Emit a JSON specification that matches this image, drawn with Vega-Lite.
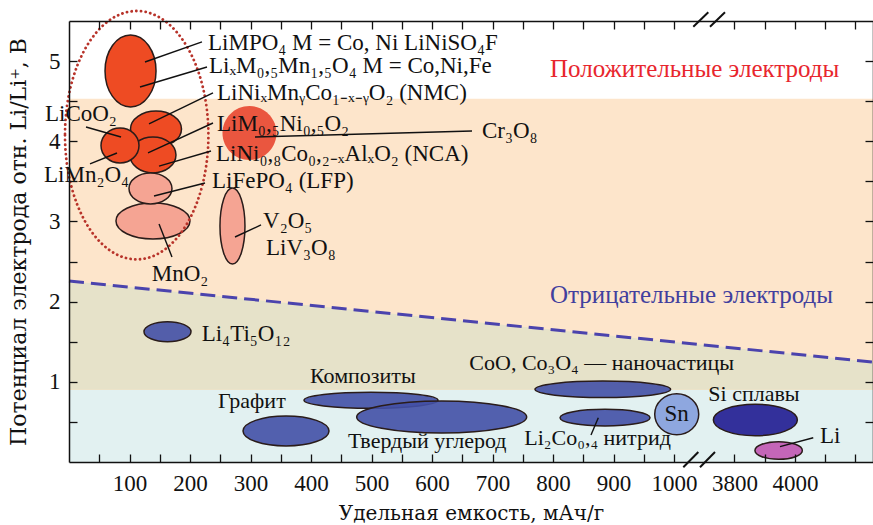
{
"$schema": "https://vega.github.io/schema/vega-lite/v6.json",
"width": 804, "height": 441,
"autosize": {"type": "none"},
"padding": {"left": 69, "top": 21, "right": 0, "bottom": 63},
"config": {"view": {"stroke": null}, "font": "Liberation Serif"},
"datasets": {
"boundary": [{"cap": 0, "v": 2.257, "vlo": 0.9}, {"cap": 4258, "v": 1.247, "vlo": 0.9}],
"ellipses": [
{"material":"LiMPO4","kind":"cathode","cap":101.7,"v":4.877},
{"material":"NMC","kind":"cathode","cap":143.8,"v":4.153},
{"material":"NCA","kind":"cathode","cap":138.8,"v":3.829},
{"material":"LiCoO2","kind":"cathode","cap":84.3,"v":3.947},
{"material":"MnO2","kind":"light","cap":138.8,"v":3.006},
{"material":"LFP","kind":"light","cap":134.7,"v":3.411},
{"material":"V2O5","kind":"light","cap":270.2,"v":2.943},
{"material":"LiM05Ni05O2","kind":"alt","cap":298.3,"v":4.103},
{"material":"LTO","kind":"anode","cap":162.8,"v":1.625},
{"material":"graphite","kind":"anode","cap":358.7,"v":0.387},
{"material":"composites","kind":"anode","cap":499.2,"v":0.770},
{"material":"hardcarbon","kind":"anode","cap":616,"v":0.561},
{"material":"CoO","kind":"anode","cap":882.3,"v":0.907},
{"material":"nitride","kind":"anode","cap":886,"v":0.553},
{"material":"Sn","kind":"sn","cap":1004.5,"v":0.595},
{"material":"Si","kind":"si","cap":3869,"v":0.524},
{"material":"Li","kind":"li","cap":3946,"v":0.143}
],
"leaders": [
{"cap":125.6,"v":4.989,"cap2":219.8,"v2":5.239},
{"cap":117.4,"v":4.677,"cap2":228.1,"v2":4.926},
{"cap":132.2,"v":4.216,"cap2":238,"v2":4.603},
{"cap":130.6,"v":3.854,"cap2":238,"v2":4.228},
{"cap":148.8,"v":3.691,"cap2":234.7,"v2":3.879},
{"cap":28.1,"v":4.178,"cap2":86,"v2":4.053},
{"cap":34.7,"v":3.717,"cap2":79.3,"v2":3.854},
{"cap":307.4,"v":4.053,"cap2":666.1,"v2":4.128},
{"cap":140.5,"v":3.318,"cap2":224.8,"v2":3.48},
{"cap":148.8,"v":2.968,"cap2":170.2,"v2":2.557},
{"cap":274.4,"v":2.806,"cap2":317.4,"v2":2.956},
{"cap":874.9,"v":0.553,"cap2":862.8,"v2":0.337},
{"cap":3950.4,"v":0.191,"cap2":4060.5,"v2":0.303}
],
"breaks": [
{"cap":1015.4,"v":-0.066,"cap2":1040.2,"v2":0.125},
{"cap":1043,"v":-0.066,"cap2":3735.5,"v2":0.125},
{"cap":1031.9,"v":5.429,"cap2":3713.4,"v2":5.609},
{"cap":3719,"v":5.429,"cap2":3768.6,"v2":5.609}
],
"labelsLatin": [
{"label":"LiMPO₄ M = Co, Ni LiNiSO₄F","cap":229.8,"v":5.138},
{"label":"LiₓM₀,₅Mn₁,₅O₄ M = Co,Ni,Fe","cap":231.4,"v":4.852},
{"label":"LiNiₓMnᵧCo₁₋ₓ₋ᵧO₂ (NMC)","cap":244.6,"v":4.515},
{"label":"LiM₀,₅Ni₀,₅O₂","cap":244.6,"v":4.128},
{"label":"Cr₃O₈","cap":682.6,"v":4.041},
{"label":"LiNi₀,₈Co₀,₂₋ₓAlₓO₂ (NCA)","cap":243,"v":3.754},
{"label":"LiFePO₄ (LFP)","cap":236.4,"v":3.417},
{"label":"LiCoO₂","cap":-39.7,"v":4.253},
{"label":"LiMn₂O₄","cap":-41.3,"v":3.492},
{"label":"V₂O₅","cap":320.7,"v":2.918},
{"label":"LiV₃O₈","cap":325.6,"v":2.582},
{"label":"MnO₂","cap":136.7,"v":2.257},
{"label":"Li₄Ti₅O₁₂","cap":219.3,"v":1.513},
{"label":"Li","cap":4082.6,"v":0.233}
],
"labelsCyr": [
{"label":"Графит","cap":246.3,"v":0.673},
{"label":"Композиты","cap":398.3,"v":0.982},
{"label":"Твердый углерод","cap":461.2,"v":0.171},
{"label":"CoO, Co₃O₄ — наночастицы","cap":661.7,"v":1.147},
{"label":"Li₂Co₀,₄ нитрид","cap":752.6,"v":0.212},
{"label":"Si сплавы","cap":3713.4,"v":0.765}
]
},
"resolve": {"axis": {"x": "independent", "y": "independent"}},
"layer": [
{
"data": {"values": [{"cap": 0, "cap2": 4258, "v": 0, "v2": 4.53}]},
"mark": {"type": "rect", "color": "#fde5cb"},
"encoding": {
"x": {"field": "cap", "type": "quantitative", "scale": {"domain": [0,1050,3700,4258], "range": [0,635.25,635.25,804], "nice": false, "zero": false},
 "axis": {"orient": "bottom", "zindex": 1, "values": [50,100,150,200,250,300,350,400,450,500,550,600,650,700,750,800,850,900,950,1000,3800,3900,4000,4100,4200],
 "labelExpr": "(datum.value % 100 === 0 && (datum.value <= 1000 || datum.value === 3800 || datum.value === 4000)) ? '' + datum.value : ''",
 "tickSize": -8, "tickColor": "#111", "tickWidth": 1.3, "domainColor": "#111", "domainWidth": 1.5, "grid": false,
 "labelFont": "Liberation Serif", "labelFontSize": 23, "labelColor": "#111", "labelPadding": 18.5, "labelFlush": false, "labelOverlap": false,
 "title": "Удельная емкость, мАч/г", "titleFont": "DejaVu Serif", "titleFontSize": 20, "titleFontWeight": "normal", "titleColor": "#111", "titlePadding": 8}},
"x2": {"field": "cap2"},
"y": {"field": "v", "type": "quantitative", "scale": {"domain": [0, 5.5], "nice": false, "zero": false},
 "axis": {"orient": "left", "zindex": 1, "values": [0.5,1,1.5,2,2.5,3,3.5,4,4.5,5], "labelExpr": "datum.value % 1 === 0 ? '' + datum.value : ''",
 "tickSize": -8, "tickColor": "#111", "tickWidth": 1.3, "domainColor": "#111", "domainWidth": 1.5, "grid": false,
 "labelFont": "Liberation Serif", "labelFontSize": 23, "labelColor": "#111", "labelPadding": 17, "labelFlush": false, "labelOverlap": false,
 "title": "Потенциал электрода отн. Li/Li⁺, В", "titleFont": "DejaVu Serif", "titleFontSize": 22, "titleFontWeight": "normal", "titleColor": "#111", "titlePadding": 18}},
"y2": {"field": "v2"}
}
},
{
"data": {"name": "boundary"},
"mark": {"type": "area", "color": "#e6e2c9"},
"encoding": {
"x": {"field": "cap", "type": "quantitative", "scale": {"domain": [0,1050,3700,4258], "range": [0,635.25,635.25,804], "nice": false, "zero": false},
 "axis": {"orient": "top", "zindex": 1, "values": [50,100,150,200,250,300,350,400,450,500,550,600,650,700,750,800,850,900,950,1000,3800,3900,4000,4100,4200],
 "labels": false, "title": null, "tickSize": -8, "tickColor": "#111", "tickWidth": 1.3, "domainColor": "#111", "domainWidth": 1.5, "grid": false}},
"y": {"field": "v", "type": "quantitative", "scale": {"domain": [0, 5.5], "nice": false, "zero": false},
 "axis": {"orient": "right", "zindex": 1, "values": [0.5,1,1.5,2,2.5,3,3.5,4,4.5,5], "labels": false, "title": null,
 "tickSize": -8, "tickColor": "#111", "tickWidth": 1.3, "domainColor": "#111", "domainWidth": 1.5, "grid": false}},
"y2": {"field": "vlo"}
}
},
{
"data": {"values": [{"cap": 0, "cap2": 4258, "v": 0, "v2": 0.898}]},
"mark": {"type": "rect", "color": "#e2f1f1"},
"encoding": {
"x": {"field": "cap", "type": "quantitative", "scale": {"domain": [0,1050,3700,4258], "range": [0,635.25,635.25,804], "nice": false, "zero": false}, "axis": null},
"x2": {"field": "cap2"},
"y": {"field": "v", "type": "quantitative", "scale": {"domain": [0, 5.5], "nice": false, "zero": false}, "axis": null},
"y2": {"field": "v2"}
}
},
{
"data": {"name": "boundary"},
"mark": {"type": "line", "color": "#4b43ad", "strokeWidth": 3, "strokeDash": [15, 7]},
"encoding": {
"x": {"field": "cap", "type": "quantitative", "scale": {"domain": [0,1050,3700,4258], "range": [0,635.25,635.25,804], "nice": false, "zero": false}, "axis": null},
"y": {"field": "v", "type": "quantitative", "scale": {"domain": [0, 5.5], "nice": false, "zero": false}, "axis": null}
}
},
{
"data": {"name": "ellipses"},
"mark": {"type": "point", "filled": true, "size": 4, "stroke": "#2a1c1a", "strokeWidth": 1.5, "opacity": 1},
"encoding": {
"x": {"field": "cap", "type": "quantitative", "scale": {"domain": [0,1050,3700,4258], "range": [0,635.25,635.25,804], "nice": false, "zero": false}, "axis": null},
"y": {"field": "v", "type": "quantitative", "scale": {"domain": [0, 5.5], "nice": false, "zero": false}, "axis": null},
"shape": {"field": "material", "type": "nominal", "legend": null, "scale": {
 "domain": ["LiMPO4","NMC","NCA","LiCoO2","MnO2","LFP","V2O5","LiM05Ni05O2","LTO","graphite","composites","hardcarbon","CoO","nitride","Sn","Si","Li"],
 "range": [
 "M-25.5,0A25.5,36,0,1,0,25.5,0A25.5,36,0,1,0,-25.5,0Z",
 "M-25.5,0A25.5,18,0,1,0,25.5,0A25.5,18,0,1,0,-25.5,0Z",
 "M-23,0A23,18,0,1,0,23,0A23,18,0,1,0,-23,0Z",
 "M-19,0A19,17.5,0,1,0,19,0A19,17.5,0,1,0,-19,0Z",
 "M-37,0A37,18,0,1,0,37,0A37,18,0,1,0,-37,0Z",
 "M-21.5,0A21.5,15.5,0,1,0,21.5,0A21.5,15.5,0,1,0,-21.5,0Z",
 "M-12.5,0A12.5,38,0,1,0,12.5,0A12.5,38,0,1,0,-12.5,0Z",
 "M-27,0A27,27,0,1,0,27,0A27,27,0,1,0,-27,0Z",
 "M-23.5,0A23.5,10,0,1,0,23.5,0A23.5,10,0,1,0,-23.5,0Z",
 "M-43,0A43,15,0,1,0,43,0A43,15,0,1,0,-43,0Z",
 "M-67,0A67,8,0,1,0,67,0A67,8,0,1,0,-67,0Z",
 "M-85,0A85,16,0,1,0,85,0A85,16,0,1,0,-85,0Z",
 "M-67.8,0A67.8,8.3,0,1,0,67.8,0A67.8,8.3,0,1,0,-67.8,0Z",
 "M-45,0A45,8.3,0,1,0,45,0A45,8.3,0,1,0,-45,0Z",
 "M-22,0A22,20.5,0,1,0,22,0A22,20.5,0,1,0,-22,0Z",
 "M-42,0A42,15.7,0,1,0,42,0A42,15.7,0,1,0,-42,0Z",
 "M-23.7,0A23.7,8.8,0,1,0,23.7,0A23.7,8.8,0,1,0,-23.7,0Z"
 ]}},
"fill": {"field": "kind", "type": "nominal", "legend": null, "scale": {
 "domain": ["cathode","light","alt","anode","sn","si","li"],
 "range": ["#ee4b23","#f5a493","#ea563f","#4350a6","#8ea7df","#33309b","#c466b8"]}},
"strokeOpacity": {"condition": {"test": "datum.kind === 'alt'", "value": 0}, "value": 1},
"fillOpacity": {"condition": {"test": "datum.kind === 'anode'", "value": 0.9}, "value": 1}
}
},
{
"data": {"values": [{"cap": 111.9, "v": 4.076}]},
"mark": {"type": "point", "filled": false, "size": 4, "shape": "M-71.7,0A71.7,124.2,0,1,0,71.7,0A71.7,124.2,0,1,0,-71.7,0Z", "stroke": "#b8332a", "strokeWidth": 2.8, "strokeDash": [0.1, 4.6], "strokeCap": "round", "opacity": 1},
"encoding": {
"x": {"field": "cap", "type": "quantitative", "scale": {"domain": [0,1050,3700,4258], "range": [0,635.25,635.25,804], "nice": false, "zero": false}, "axis": null},
"y": {"field": "v", "type": "quantitative", "scale": {"domain": [0, 5.5], "nice": false, "zero": false}, "axis": null}
}
},
{
"data": {"name": "leaders"},
"mark": {"type": "rule", "color": "#111", "strokeWidth": 1.4},
"encoding": {
"x": {"field": "cap", "type": "quantitative", "scale": {"domain": [0,1050,3700,4258], "range": [0,635.25,635.25,804], "nice": false, "zero": false}, "axis": null},
"y": {"field": "v", "type": "quantitative", "scale": {"domain": [0, 5.5], "nice": false, "zero": false}, "axis": null},
"x2": {"field": "cap2"}, "y2": {"field": "v2"}
}
},
{
"data": {"name": "breaks"},
"mark": {"type": "rule", "color": "#111", "strokeWidth": 2},
"encoding": {
"x": {"field": "cap", "type": "quantitative", "scale": {"domain": [0,1050,3700,4258], "range": [0,635.25,635.25,804], "nice": false, "zero": false}, "axis": null},
"y": {"field": "v", "type": "quantitative", "scale": {"domain": [0, 5.5], "nice": false, "zero": false}, "axis": null},
"x2": {"field": "cap2"}, "y2": {"field": "v2"}
}
},
{
"data": {"name": "labelsLatin"},
"mark": {"type": "text", "align": "left", "baseline": "alphabetic", "font": "Liberation Serif", "fontSize": 23, "color": "#111"},
"encoding": {
"x": {"field": "cap", "type": "quantitative", "scale": {"domain": [0,1050,3700,4258], "range": [0,635.25,635.25,804], "nice": false, "zero": false}, "axis": null},
"y": {"field": "v", "type": "quantitative", "scale": {"domain": [0, 5.5], "nice": false, "zero": false}, "axis": null},
"text": {"field": "label"}
}
},
{
"data": {"name": "labelsCyr"},
"mark": {"type": "text", "align": "left", "baseline": "alphabetic", "font": "Liberation Serif", "fontSize": 22, "color": "#111"},
"encoding": {
"x": {"field": "cap", "type": "quantitative", "scale": {"domain": [0,1050,3700,4258], "range": [0,635.25,635.25,804], "nice": false, "zero": false}, "axis": null},
"y": {"field": "v", "type": "quantitative", "scale": {"domain": [0, 5.5], "nice": false, "zero": false}, "axis": null},
"text": {"field": "label"}
}
},
{
"data": {"values": [{"label": "Sn", "cap": 1004.5, "v": 0.595}]},
"mark": {"type": "text", "align": "center", "baseline": "middle", "font": "Liberation Serif", "fontSize": 23, "color": "#111"},
"encoding": {
"x": {"field": "cap", "type": "quantitative", "scale": {"domain": [0,1050,3700,4258], "range": [0,635.25,635.25,804], "nice": false, "zero": false}, "axis": null},
"y": {"field": "v", "type": "quantitative", "scale": {"domain": [0, 5.5], "nice": false, "zero": false}, "axis": null},
"text": {"field": "label"}
}
},
{
"data": {"values": [{"label": "Положительные электроды", "cap": 795, "v": 4.802}]},
"mark": {"type": "text", "align": "left", "baseline": "alphabetic", "font": "Liberation Serif", "fontSize": 25, "color": "#e8262d"},
"encoding": {
"x": {"field": "cap", "type": "quantitative", "scale": {"domain": [0,1050,3700,4258], "range": [0,635.25,635.25,804], "nice": false, "zero": false}, "axis": null},
"y": {"field": "v", "type": "quantitative", "scale": {"domain": [0, 5.5], "nice": false, "zero": false}, "axis": null},
"text": {"field": "label"}
}
},
{
"data": {"values": [{"label": "Отрицательные электроды", "cap": 795, "v": 1.979}]},
"mark": {"type": "text", "align": "left", "baseline": "alphabetic", "font": "Liberation Serif", "fontSize": 25, "color": "#41409e"},
"encoding": {
"x": {"field": "cap", "type": "quantitative", "scale": {"domain": [0,1050,3700,4258], "range": [0,635.25,635.25,804], "nice": false, "zero": false}, "axis": null},
"y": {"field": "v", "type": "quantitative", "scale": {"domain": [0, 5.5], "nice": false, "zero": false}, "axis": null},
"text": {"field": "label"}
}
}
]
}
